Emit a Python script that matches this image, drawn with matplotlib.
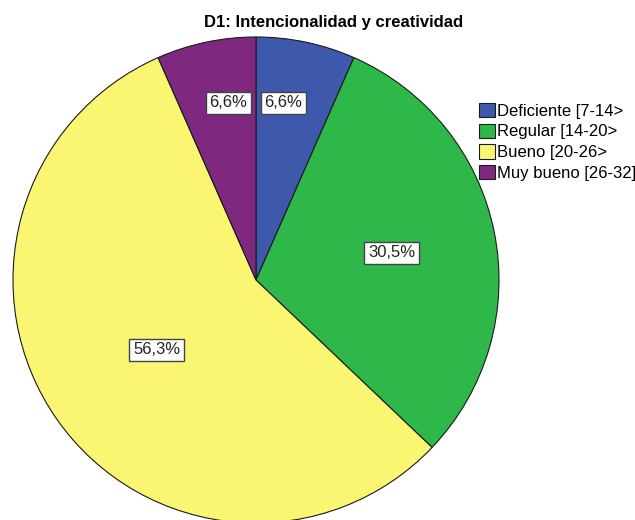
import numpy as np
import matplotlib.pyplot as plt

plt.rcParams['font.family'] = ['Liberation Sans', 'DejaVu Sans']

# Distribution of D1 levels (percent of respondents)
categories = ['Deficiente [7-14>', 'Regular [14-20>', 'Bueno [20-26>', 'Muy bueno [26-32]']
shares = [6.6, 30.5, 56.3, 6.6]
colors = ['#3e58ac', '#2eb84a', '#faf672', '#7e2880']
title = 'D1: Intencionalidad y creatividad'


def pct_text(v):
    return f'{v:.1f}%'.replace('.', ',')


fig = plt.figure(figsize=(6.35, 5.2), dpi=100)
ax = fig.add_axes([13 / 635, -3 / 520, 486 / 635, 486 / 520])

wedges, _ = ax.pie(shares, colors=colors, startangle=90, counterclock=False,
                   radius=1.0,
                   wedgeprops=dict(edgecolor='#1a1a1a', linewidth=0.8))
ax.set_xlim(-1, 1)
ax.set_ylim(-1, 1)
ax.set_aspect('equal')
ax.axis('off')

box = dict(boxstyle='square,pad=0.22', facecolor='white', edgecolor='#444444', linewidth=1.0)
for w, v in zip(wedges, shares):
    half = np.deg2rad(abs(w.theta2 - w.theta1) / 2)
    mid = np.deg2rad((w.theta1 + w.theta2) / 2)
    if v < 10:
        # thin slices: label hugs the dividing line at the top
        y = 0.745 * np.sin(mid)
        if np.cos(mid) >= 0:
            ax.text(0.035, y, pct_text(v), ha='left', va='center',
                    fontsize=12, color='#222222', bbox=box)
        else:
            ax.text(-0.035, y, pct_text(v), ha='right', va='center',
                    fontsize=12, color='#222222', bbox=box)
    else:
        # sector centroid, kept away from the hub for wide slices
        r = max(2 / 3 * np.sin(half) / half, 0.5)
        ax.text(r * np.cos(mid), r * np.sin(mid), pct_text(v),
                ha='center', va='center', fontsize=12, color='#222222', bbox=box)

fig.text(334 / 635, 1 - 22 / 520, title, ha='center', va='center',
         fontsize=12, fontweight='bold')

fig.legend(wedges, categories, loc='upper left', bbox_to_anchor=(0.755, 0.802),
           frameon=False, fontsize=12, handlelength=0.95, handleheight=0.95,
           handletextpad=0.1, labelspacing=0.28, borderpad=0, borderaxespad=0)

fig.savefig('out.png', dpi=100, facecolor='white')
